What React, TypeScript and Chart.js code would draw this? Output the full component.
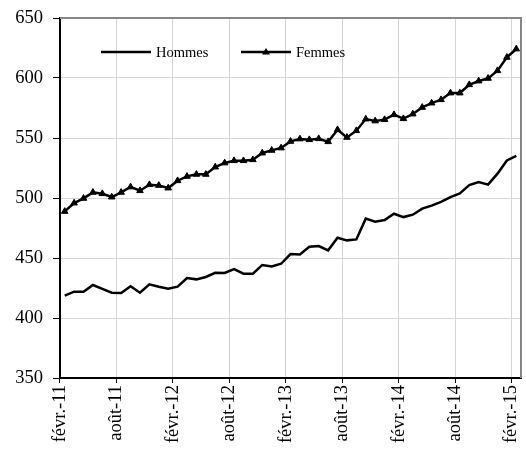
import React, { useEffect, useRef } from 'react';
import { Chart, registerables } from 'chart.js';

Chart.register(...registerables);

// mois de févr.-11 à févr.-15 (49 points mensuels)
const monthNames = ['janv.', 'févr.', 'mars', 'avr.', 'mai', 'juin', 'juil.', 'août', 'sept.', 'oct.', 'nov.', 'déc.'];
const startYear = 11;
const startMonth = 1;
const nbMonths = 49;

const hommes = [
  418.6, 421.9, 421.9, 427.5, 424.2, 421.1, 420.8, 426.4, 421.1, 428.0,
  426.1, 424.4, 426.1, 433.3, 432.2, 434.2, 437.7, 437.5, 440.8, 436.9,
  436.9, 444.2, 443.0, 445.2, 453.3, 453.0, 459.4, 460.0, 456.4, 466.9,
  464.7, 465.5, 482.8, 480.3, 481.6, 486.9, 484.1, 486.1, 491.1, 493.6,
  496.7, 500.8, 503.9, 510.8, 513.3, 511.1, 520.3, 531.3, 535.2,
];

const femmes = [
  488.8, 495.8, 499.7, 504.7, 503.6, 500.8, 504.7, 509.2, 506.1, 511.1,
  510.5, 508.3, 514.4, 518.0, 519.7, 519.7, 525.8, 529.2, 531.1, 531.1,
  531.9, 537.5, 539.7, 541.7, 547.2, 549.2, 548.6, 549.4, 546.9, 556.9,
  550.5, 556.1, 565.8, 564.2, 565.3, 569.4, 566.1, 570.0, 575.5, 579.1,
  581.9, 587.5, 587.5, 594.4, 597.5, 599.7, 606.1, 617.2, 624.2,
];

const labels: string[] = [];
for (let i = 0; i < nbMonths; i++) {
  const m = (startMonth + i) % 12;
  const y = startYear + Math.floor((startMonth + i) / 12);
  labels.push(monthNames[m] + '-' + y);
}

const FONT = '"Liberation Serif", "Times New Roman", serif';

// cadre gris en haut et à droite de la zone de tracé
const frame = {
  id: 'frame',
  afterDraw(chart: any) {
    const { ctx, chartArea: a } = chart;
    ctx.save();
    ctx.strokeStyle = '#868686';
    ctx.lineWidth = 2;
    ctx.beginPath();
    ctx.moveTo(a.left, a.top);
    ctx.lineTo(a.right, a.top);
    ctx.lineTo(a.right, a.bottom);
    ctx.stroke();
    ctx.restore();
  },
};

// légende dessinée dans la zone de tracé
const innerLegend = {
  id: 'innerLegend',
  afterDraw(chart: any) {
    const { ctx, chartArea: a } = chart;
    const starts = [41, 181];
    const y = a.top + 34;
    ctx.save();
    chart.data.datasets.forEach((ds: any, i: number) => {
      const x0 = a.left + starts[i];
      ctx.strokeStyle = '#000';
      ctx.lineWidth = 2.5;
      ctx.beginPath();
      ctx.moveTo(x0, y);
      ctx.lineTo(x0 + 50, y);
      ctx.stroke();
      if (ds.pointStyle === 'triangle') {
        const r = 4;
        ctx.fillStyle = '#000';
        ctx.beginPath();
        ctx.moveTo(x0 + 25, y - r);
        ctx.lineTo(x0 + 25 + r, y + r * 0.6);
        ctx.lineTo(x0 + 25 - r, y + r * 0.6);
        ctx.closePath();
        ctx.fill();
      }
      ctx.fillStyle = '#000';
      ctx.font = '14.5px ' + FONT;
      ctx.textAlign = 'left';
      ctx.textBaseline = 'middle';
      ctx.fillText(ds.label, x0 + 55, y + 1);
    });
    ctx.restore();
  },
};

const App: React.FC = () => {
  const canvasRef = useRef<HTMLCanvasElement>(null);
  const chartRef = useRef<Chart | null>(null);

  useEffect(() => {
    if (!canvasRef.current) return;
    if (chartRef.current) chartRef.current.destroy();

    chartRef.current = new Chart(canvasRef.current, {
      type: 'line',
      data: {
        labels,
        datasets: [
          {
            label: 'Hommes',
            data: hommes,
            borderColor: '#000',
            backgroundColor: '#000',
            borderWidth: 2.5,
            pointRadius: 0,
            tension: 0,
          },
          {
            label: 'Femmes',
            data: femmes,
            borderColor: '#000',
            backgroundColor: '#000',
            borderWidth: 2.5,
            pointStyle: 'triangle',
            pointRadius: 3.8,
            pointBorderWidth: 1,
            tension: 0,
          },
        ],
      },
      options: {
        responsive: true,
        maintainAspectRatio: false,
        animation: false,
        layout: { padding: { top: 18, right: 2, left: 0, bottom: 0 } },
        plugins: {
          legend: { display: false },
          tooltip: { enabled: false },
        },
        scales: {
          x: {
            type: 'category',
            offset: true,
            afterFit: (scale: any) => {
              scale.height = 79;
              scale.paddingLeft = 0;
              scale.paddingRight = 0;
            },
            grid: {
              offset: true,
              color: (ctx: any) => (ctx.index % 6 === 0 ? '#d4d4d4' : 'transparent'),
              tickColor: (ctx: any) => (ctx.index % 6 === 0 ? '#000' : 'transparent'),
              tickLength: 5,
              lineWidth: 1,
            },
            border: { color: '#000', width: 2 },
            ticks: {
              autoSkip: false,
              maxRotation: 90,
              minRotation: 90,
              labelOffset: -4.74,
              padding: 2,
              color: '#000',
              font: { family: FONT, size: 18.5 },
              callback: (_v: any, i: number) => (i % 6 === 0 ? labels[i] : ''),
            },
          },
          y: {
            min: 350,
            max: 650,
            afterFit: (scale: any) => {
              scale.width = 60;
              scale.paddingTop = 0;
              scale.paddingBottom = 0;
            },
            grid: { color: '#d4d4d4', tickColor: '#000', tickLength: 7, lineWidth: 1 },
            border: { color: '#000', width: 2 },
            ticks: {
              stepSize: 50,
              padding: 10,
              color: '#000',
              font: { family: FONT, size: 18.5 },
            },
          },
        },
      },
      plugins: [frame, innerLegend],
    });

    return () => {
      if (chartRef.current) {
        chartRef.current.destroy();
        chartRef.current = null;
      }
    };
  }, []);

  return (
    <div style={{ position: 'fixed', left: 0, top: 0, width: 526, height: 457, background: '#fff' }}>
      <canvas ref={canvasRef}></canvas>
    </div>
  );
};

export default App;
